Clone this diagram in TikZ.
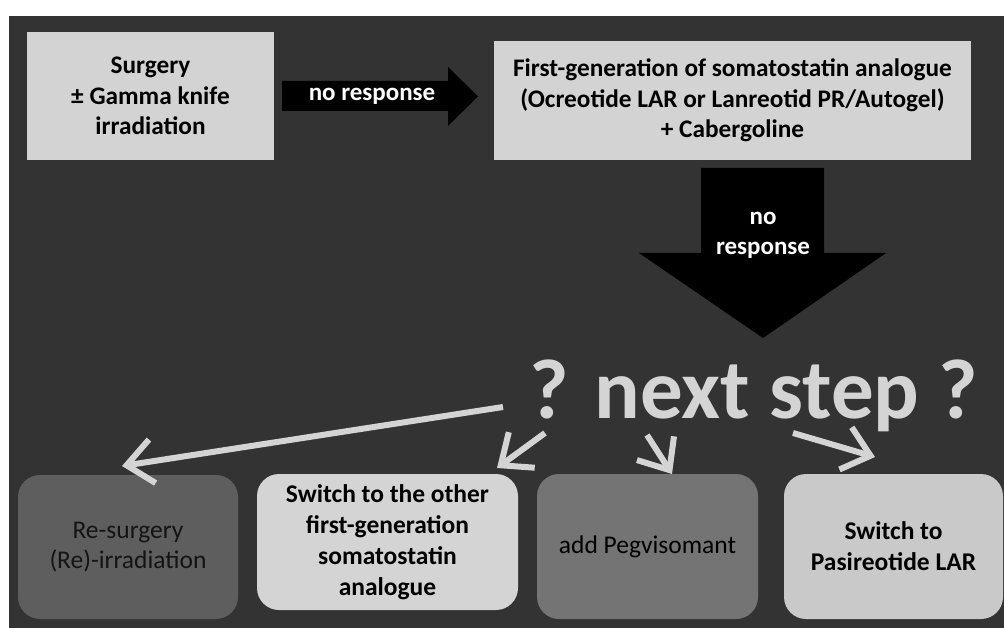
\documentclass[tikz,border=0pt]{standalone}
\usepackage{fontspec}
\setmainfont{Carlito}
\usetikzlibrary{arrows.meta}
\definecolor{bgdark}{HTML}{333333}
\definecolor{topgray}{HTML}{D3D3D3}
\definecolor{ltgray}{HTML}{D4D4D4}
\definecolor{gone}{HTML}{5E5E5E}
\definecolor{gtwo}{HTML}{D4D4D4}
\definecolor{gthree}{HTML}{747474}
\definecolor{gfour}{HTML}{C9C9C9}
\definecolor{txtdark}{HTML}{141414}
\begin{document}
\begin{tikzpicture}[x=1pt,y=-1pt,
  topbox/.style={fill=topgray, draw=none, align=center, text=black, inner sep=0pt,
    font=\bfseries\fontsize{25.3}{30.5}\selectfont},
  arrowtext/.style={text=white, align=center, inner sep=0pt,
    font=\bfseries\fontsize{25}{30}\selectfont},
  btmbox/.style={rounded corners=22pt, draw=none, align=center, inner sep=0pt,
    font=\fontsize{25.5}{30}\selectfont},
  btmbold/.style={btmbox, font=\bfseries\fontsize{25.5}{31}\selectfont},
  nextarrow/.style={line width=6pt, draw=ltgray, -{Straight Barb[length=26pt,width=44pt]}}
]
\useasboundingbox (0,0) rectangle (1004,628);
\fill[white] (0,0) rectangle (1004,628);
\fill[bgdark] (9,16) rectangle (1004,628);

% top boxes
\node[topbox, minimum width=247pt, minimum height=128pt] (surg) at (150.5,96)
  {Surgery\\± Gamma knife\\irradiation};
\node[topbox, minimum width=477pt, minimum height=119pt] (sst) at (732.5,100.5)
  {First-generation of somatostatin analogue\\(Ocreotide LAR or Lanreotid PR/Autogel)\\+ Cabergoline};

% right block arrow
\fill[black] (282,81) -- (448,81) -- (448,67) -- (478,96.5) -- (448,126) -- (448,111) -- (282,111) -- cycle;
\node[arrowtext] (nrone) at (372,96) {no response};

% down block arrow
\fill[black] (701,168) -- (824,168) -- (824,253) -- (886,253) -- (763,338) -- (639,253) -- (701,253) -- cycle;
\node[arrowtext] (nrtwo) at (763,235) {no\\response};

% central question
\node[text=ltgray, anchor=base, inner sep=0pt, font=\bfseries\fontsize{85}{85}\selectfont]
  (next) at (754,418) {? next step ?};

% bottom boxes
\node[btmbox, fill=gone, text=txtdark, minimum width=220pt, minimum height=144pt] (bone) at (128,547)
  {Re-surgery\\(Re)-irradiation};
\node[btmbold, fill=gtwo, text=black, minimum width=261pt, minimum height=136pt] (btwo) at (387.5,542)
  {Switch to the other\\first-generation\\somatostatin\\analogue};
\node[btmbox, fill=gthree, text=black, minimum width=221pt, minimum height=145pt] (bthree) at (647.5,546.5)
  {add Pegvisomant};
\node[btmbold, fill=gfour, text=black, minimum width=219pt, minimum height=145pt] (bfour) at (893.5,546.5)
  {Switch to\\Pasireotide LAR};

% arrows from the question
\coordinate (sone) at (503,407);
\coordinate (tone) at (122,466);
\coordinate (stwo) at (545,433);
\coordinate (ttwo) at (497,468);
\coordinate (sthree) at (647,435);
\coordinate (tthree) at (672,474);
\coordinate (sfour) at (793,433);
\coordinate (tfour) at (875,457);
\draw[nextarrow] (sone) -- (tone);
\draw[nextarrow] (stwo) -- (ttwo);
\draw[nextarrow] (sthree) -- (tthree);
\draw[nextarrow] (sfour) -- (tfour);
\end{tikzpicture}
\end{document}
